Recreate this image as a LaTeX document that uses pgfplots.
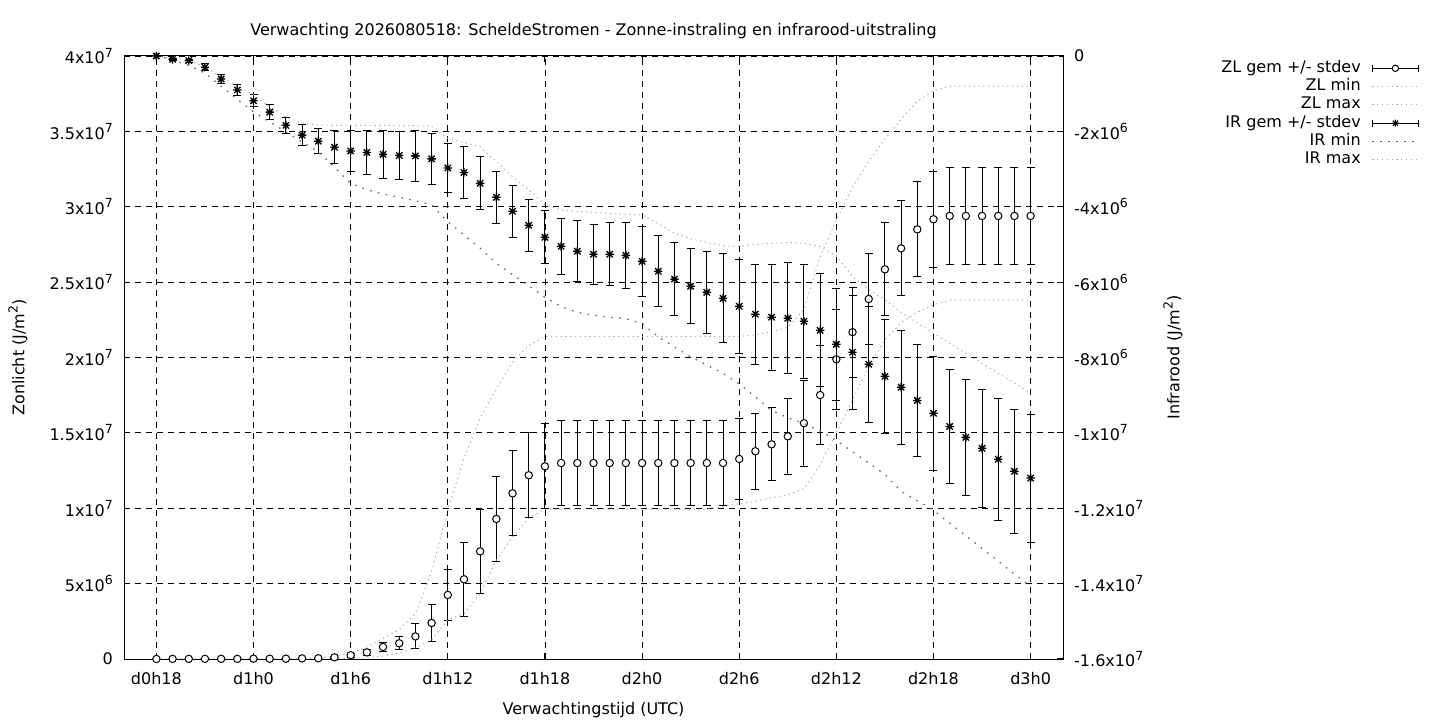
\documentclass[border=0pt]{standalone}
\usepackage{fontspec}
\setmainfont{DejaVu Sans}
\usepackage{pgfplots}
\usepackage{pgfplotstable}
\pgfplotsset{compat=1.18}
\newcommand\fs{\fontsize{16bp}{19bp}\selectfont}
\newcommand\sq[1]{\raisebox{0.42em}{\fontsize{12.5bp}{12.5bp}\selectfont #1}}
\newcommand\ten[2]{#1x10\sq{#2}}
\definecolor{lg}{HTML}{A8A8A8}
\definecolor{dg}{HTML}{666666}

\pgfdeclareplotmark{gstar}{%
 \pgfpathmoveto{\pgfqpoint{-\pgfplotmarksize}{0pt}}\pgfpathlineto{\pgfqpoint{\pgfplotmarksize}{0pt}}%
 \pgfpathmoveto{\pgfqpoint{0pt}{-\pgfplotmarksize}}\pgfpathlineto{\pgfqpoint{0pt}{\pgfplotmarksize}}%
 \pgfpathmoveto{\pgfqpoint{-0.75\pgfplotmarksize}{-0.75\pgfplotmarksize}}\pgfpathlineto{\pgfqpoint{0.75\pgfplotmarksize}{0.75\pgfplotmarksize}}%
 \pgfpathmoveto{\pgfqpoint{-0.75\pgfplotmarksize}{0.75\pgfplotmarksize}}\pgfpathlineto{\pgfqpoint{0.75\pgfplotmarksize}{-0.75\pgfplotmarksize}}%
 \pgfusepathqstroke}

% h: hour since d0h0; ZL (zonlicht) and IR (infrarood) in units of 1e6 J/m^2
\pgfplotstableread{
h zm zs zmin zmax im is imin imax
18 0 0 0 0 0 0 0 0
19 0.01 0 0 0 -0.09 0.02 -0.10 -0.05
20 0.01 0 0 0 -0.12 0.04 -0.25 -0.10
21 0.01 0 0 0 -0.30 0.09 -0.45 -0.30
22 0.01 0 0 0 -0.61 0.12 -0.80 -0.55
23 0.01 0 0 0 -0.90 0.14 -1.15 -0.80
24 0.02 0 0 0 -1.19 0.16 -1.48 -1.03
25 0.02 0 0 0 -1.49 0.20 -1.75 -1.35
26 0.02 0 0 0 -1.84 0.22 -2.01 -1.62
27 0.04 0.02 0 0.02 -2.10 0.27 -2.28 -1.78
28 0.05 0.03 0 0.06 -2.26 0.34 -2.54 -1.83
29 0.11 0.06 0 0.16 -2.42 0.43 -2.95 -1.84
30 0.25 0.12 0.05 0.38 -2.52 0.54 -3.38 -1.84
31 0.44 0.20 0.10 0.80 -2.56 0.59 -3.55 -1.84
32 0.80 0.29 0.20 1.37 -2.61 0.63 -3.66 -1.84
33 1.04 0.42 0.40 1.95 -2.64 0.64 -3.75 -1.85
34 1.50 0.83 0.75 3.00 -2.65 0.67 -3.84 -1.85
35 2.39 1.24 1.26 5.80 -2.73 0.67 -3.95 -1.86
36 4.25 1.71 2.60 9.90 -2.97 0.65 -4.40 -2.18
37 5.29 2.45 3.00 13.30 -3.09 0.69 -4.75 -2.30
38 7.14 2.78 4.36 16.00 -3.38 0.70 -5.10 -2.41
39 9.29 2.79 6.57 17.90 -3.75 0.69 -5.50 -2.80
40 10.99 2.81 8.10 19.70 -4.12 0.69 -5.80 -3.20
41 12.19 2.81 9.33 20.80 -4.49 0.69 -6.10 -3.55
42 12.78 2.82 9.93 21.40 -4.81 0.70 -6.40 -3.95
43 13.00 2.79 9.95 21.40 -5.05 0.75 -6.65 -4.08
44 13.00 2.79 9.95 21.40 -5.18 0.81 -6.80 -4.12
45 13.00 2.79 9.95 21.40 -5.26 0.80 -6.88 -4.15
46 13.00 2.79 9.95 21.40 -5.26 0.84 -6.93 -4.18
47 13.00 2.79 9.95 21.40 -5.29 0.87 -6.97 -4.20
48 13.00 2.79 9.95 21.40 -5.45 0.92 -7.10 -4.22
49 13.00 2.79 9.95 21.40 -5.71 0.95 -7.45 -4.45
50 13.00 2.79 9.95 21.40 -5.92 0.96 -7.72 -4.70
51 13.00 2.79 9.95 21.40 -6.11 0.99 -7.98 -4.85
52 13.00 2.79 9.95 21.40 -6.27 1.09 -8.20 -4.95
53 13.00 2.79 10.10 21.40 -6.43 1.18 -8.42 -5.03
54 13.27 2.69 10.30 21.40 -6.64 1.25 -8.70 -5.05
55 13.78 2.52 10.45 21.50 -6.85 1.33 -9.05 -5.00
56 14.24 2.42 10.70 21.70 -6.93 1.41 -9.40 -4.97
57 14.77 2.52 10.90 22.00 -6.96 1.47 -9.60 -4.95
58 15.64 2.85 11.30 23.20 -7.04 1.51 -9.75 -4.97
59 17.51 3.30 12.90 26.70 -7.28 1.50 -9.95 -5.06
60 19.88 3.32 15.00 29.10 -7.65 1.48 -10.20 -5.30
61 21.68 2.99 17.20 31.30 -7.86 1.51 -10.50 -5.85
62 23.88 3.03 19.40 33.00 -8.18 1.54 -10.80 -6.20
63 25.85 3.08 21.20 34.50 -8.50 1.51 -11.10 -6.47
64 27.24 3.15 22.30 35.80 -8.79 1.51 -11.55 -6.80
65 28.50 3.15 23.00 37.00 -9.14 1.49 -11.80 -7.08
66 29.17 3.18 23.50 37.70 -9.48 1.51 -12.05 -7.36
67 29.39 3.20 23.80 38.00 -9.83 1.51 -12.40 -7.62
68 29.39 3.20 23.80 38.00 -10.12 1.54 -12.73 -7.89
69 29.39 3.20 23.80 38.00 -10.41 1.57 -13.07 -8.15
70 29.39 3.20 23.80 38.00 -10.70 1.62 -13.40 -8.42
71 29.39 3.20 23.80 38.00 -11.02 1.65 -13.75 -8.68
72 29.39 3.20 23.80 38.00 -11.20 1.70 -14.08 -8.95
}\data

\tikzset{
  zlline/.style={lg, line width=1bp, dash pattern=on 1.2bp off 3.6bp},
  irline/.style={dg, line width=1.3bp, dash pattern=on 1.5bp off 6.5bp},
}
\pgfplotsset{
  every axis title shift=0pt,
  common/.style={scale only axis, width=939bp, height=603bp,
    at={(124bp,61bp)}, anchor=south west, xmin=16, xmax=74,
    tick label style={font=\fs}, label style={font=\fs}, title style={font=\fs},
    tick align=inside, major tick length=6bp, tick style={black,line width=1bp}},
  zlerrimg/.style={legend image code/.code={
     \draw[black,line width=1bp] (0bp,0bp)--(46bp,0bp) (0bp,-3.5bp)--(0bp,3.5bp) (46bp,-3.5bp)--(46bp,3.5bp);
     \draw[black,fill=white,line width=1bp] (23bp,0bp) circle (3.2bp);}},
  irerrimg/.style={legend image code/.code={
     \draw[black,line width=1bp] (0bp,0bp)--(46bp,0bp) (0bp,-3.5bp)--(0bp,3.5bp) (46bp,-3.5bp)--(46bp,3.5bp);
     \draw[black,line width=1bp] (19.5bp,0bp)--(26.5bp,0bp) (23bp,-3.5bp)--(23bp,3.5bp)
        (20.4bp,-2.6bp)--(25.6bp,2.6bp) (20.4bp,2.6bp)--(25.6bp,-2.6bp);}},
  zllineimg/.style={legend image code/.code={\draw[zlline] (0bp,0bp)--(46bp,0bp);}},
  irlineimg/.style={legend image code/.code={\draw[irline] (0bp,0bp)--(46bp,0bp);}},
}

\begin{document}
\begin{tikzpicture}
\path[use as bounding box] (0,0) rectangle (1440bp,720bp);
\begin{axis}[common,
  ymin=0, ymax=40,
  xtick={18,24,...,72},
  xticklabels={d0h18,d1h0,d1h6,d1h12,d1h18,d2h0,d2h6,d2h12,d2h18,d3h0},
  ytick={0,5,...,40},
  yticklabels={0,\ten{5}{6},\ten{1}{7},\ten{1.5}{7},\ten{2}{7},\ten{2.5}{7},\ten{3}{7},\ten{3.5}{7},\ten{4}{7}},
  xtick pos=both, ytick pos=left,
  grid=major, major grid style={black, line width=0.8bp, dash pattern=on 6bp off 5bp},
  axis line style={black, line width=1bp},
  yticklabel style={inner sep=0pt, xshift=-11bp},
  xticklabel style={inner sep=0pt, yshift=-13bp},
  title={Verwachting 2026080518: ScheldeStromen - Zonne-instraling en infrarood-uitstraling},
  title style={at={(axis description cs:0.5,1.0337)}, anchor=base},
  xlabel={Verwachtingstijd (UTC)},
  xlabel style={at={(axis description cs:0.5,-0.0917)}, anchor=base},
  ylabel={Zonlicht (J/m\sq{2})},
  ylabel style={at={(axis description cs:-0.1129,0.5)}, anchor=center},
]
\addplot[only marks, mark=*, mark size=3.7bp,
  mark options={fill=white, draw=black, line width=1bp, solid},
  error bars/.cd, y dir=both, y explicit,
  error bar style={black, line width=1bp, solid},
  error mark options={rotate=90, black, line width=1bp, mark size=4bp}]
  table[x=h, y=zm, y error=zs]{\data};
\addplot[zlline, no marks] table[x=h, y=zmin]{\data};
\addplot[zlline, no marks] table[x=h, y=zmax]{\data};
\end{axis}
\begin{axis}[common,
  ymin=-16, ymax=0,
  axis x line=none, axis y line*=right,
  axis line style={black, line width=1bp},
  ytick={-16,-14,...,0},
  yticklabels={-\ten{1.6}{7},-\ten{1.4}{7},-\ten{1.2}{7},-\ten{1}{7},-\ten{8}{6},-\ten{6}{6},-\ten{4}{6},-\ten{2}{6},0},
  yticklabel style={inner sep=0pt, xshift=11bp},
  ylabel={Infrarood (J/m\sq{2})},
  ylabel style={at={(axis description cs:1.1172,0.5)}, anchor=center},
  legend cell align=right, legend plot pos=right,
  legend style={at={(1.3794,0.9922)}, anchor=north east, draw=none, fill=none,
    inner sep=0pt, row sep=3.5bp, column sep=11bp, font=\fs,
    nodes={inner sep=0pt, text height=11.3bp, text depth=3.5bp}},
]
\addlegendimage{zlerrimg}\addlegendentry{ZL gem +/- stdev}
\addlegendimage{zllineimg}\addlegendentry{ZL min}
\addlegendimage{zllineimg}\addlegendentry{ZL max}
\addplot[only marks, mark=gstar, mark size=4.2bp,
  mark options={black, line width=1.3bp, solid}, irerrimg,
  error bars/.cd, y dir=both, y explicit,
  error bar style={black, line width=1bp, solid},
  error mark options={rotate=90, black, line width=1bp, mark size=4bp}]
  table[x=h, y=im, y error=is]{\data};
\addlegendentry{IR gem +/- stdev}
\addplot[irline, no marks, irlineimg] table[x=h, y=imin]{\data};
\addlegendentry{IR min}
\addplot[zlline, no marks, zllineimg] table[x=h, y=imax]{\data};
\addlegendentry{IR max}
\end{axis}
\end{tikzpicture}
\end{document}
